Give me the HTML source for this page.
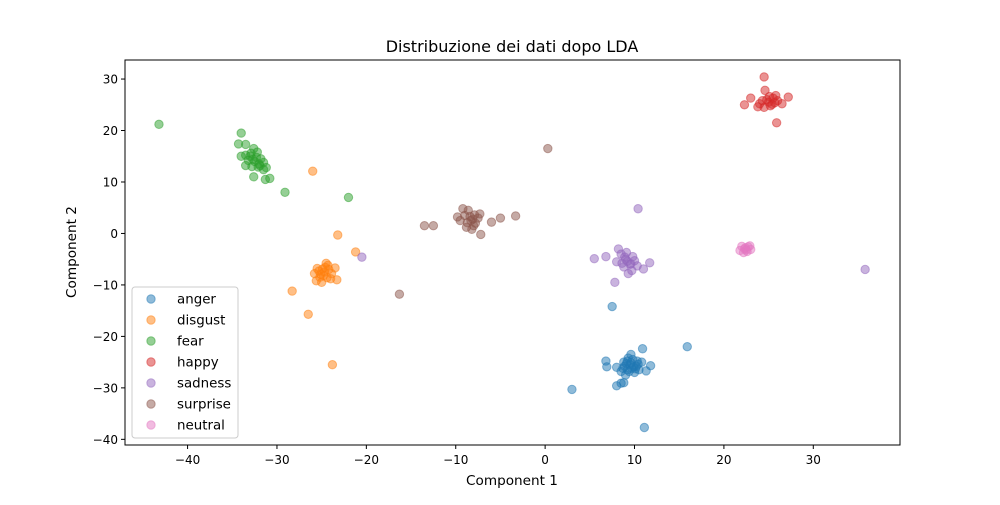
<!DOCTYPE html>
<html><head><meta charset="utf-8"><style>
body{margin:0;background:#fff;font-family:"Liberation Sans",sans-serif}
svg text{font-family:"DejaVu Sans","Liberation Sans",sans-serif;fill:#000}
</style></head><body>
<svg id="chart" width="1000" height="500">
<rect width="1000" height="500" fill="#fff"/>
<text x="512" y="52" font-size="16" text-anchor="middle">Distribuzione dei dati dopo LDA</text>
<g id="marks"></g>
<rect x="125" y="60" width="775" height="385" fill="none" stroke="#000" stroke-width="1"/>
<g id="axes"></g>
<text x="512" y="485" font-size="13.6" text-anchor="middle">Component 1</text>
<text transform="translate(76,252) rotate(-90)" font-size="13.6" text-anchor="middle">Component 2</text>
<g id="legend"></g>
</svg>
<script>
const classes=["anger","disgust","fear","happy","sadness","surprise","neutral"];
const colors=["#1f77b4","#ff7f0e","#2ca02c","#d62728","#9467bd","#8c564b","#e377c2"];
const xTicks=[-40,-30,-20,-10,0,10,20,30];
const yTicks=[30,20,10,0,-10,-20,-30,-40];
const anger=[[3,-30.3],[6.8,-24.8],[6.9,-25.9],[7.5,-14.2],[8,-29.6],[8.5,-29.1],[8.8,-29],[10.9,-22.4],[11.1,-37.7],[15.9,-22],[11.8,-25.7],[11.3,-26.7],[8,-26],[9.5,-25.5],[9.8,-24.5],[9.2,-26.5],[10.2,-25.8],[8.8,-25],[9.6,-23.5],[10.5,-26.5],[9,-27.5],[8.5,-26.8],[10,-27],[9.3,-24.2],[10.8,-25],[9.7,-26.2],[8.9,-25.8],[10.3,-24.8],[9.1,-25.3],[9.9,-25.9],[9.4,-26.8],[10.1,-26.3],[9.6,-25.1],[8.7,-26.2],[10.4,-25.4],[9.2,-24.8]];
const disgust=[[-26,12.1],[-28.3,-11.2],[-26.5,-15.7],[-23.8,-25.5],[-23.2,-0.3],[-21.2,-3.6],[-23.3,-9],[-23.5,-6.7],[-24.7,-7.5],[-25.2,-8.5],[-24.3,-6.2],[-25.5,-6.8],[-24,-8.8],[-25,-9.5],[-24.5,-5.8],[-25.8,-7.8],[-24.2,-7],[-25.3,-7.3],[-24.8,-8.2],[-23.9,-7.8],[-25.6,-9.2],[-24.6,-6.6],[-25.1,-7.9],[-24.4,-8.6],[-24.9,-6.9]];
const fear=[[-43.2,21.2],[-34,19.5],[-34.3,17.4],[-33.5,17.3],[-29.1,8],[-22,7],[-31.3,10.5],[-30.8,10.7],[-32.6,11],[-31.5,12.4],[-32.5,14],[-33,15],[-32,13.5],[-33.5,15.2],[-31.8,14.5],[-32.8,13],[-32.2,15.8],[-33.2,14.2],[-31.5,13.8],[-32.6,16.5],[-34,15],[-31.2,12.8],[-33.5,13.2],[-32.3,14.8],[-32.7,14.4],[-32.1,12.9],[-32.9,15.6],[-31.9,13.2]];
const happy=[[24.5,30.4],[25.9,21.5],[22.3,25],[27.2,26.5],[23,26.3],[25,25.5],[24.5,24.5],[25.5,26.3],[24,25.2],[26,25.8],[25.2,24.8],[24.6,27.8],[26.5,25.2],[25.8,26.8],[23.8,24.6],[25.4,25.1],[24.8,26],[25.1,26.6],[25.7,25.4],[24.3,25.8]];
const sadness=[[10.4,4.8],[35.8,-7],[-20.5,-4.6],[5.5,-4.9],[7.8,-9.5],[11.7,-5.7],[11,-6.9],[6.8,-4.5],[9,-5],[8.5,-4],[9.5,-6],[8.2,-3],[9.8,-4.5],[8.8,-6.5],[9.3,-7.8],[8,-5.5],[10,-5.3],[9.1,-3.7],[8.6,-5.8],[9.7,-7.2],[10.3,-6.3],[9.2,-5.4],[8.9,-4.6],[9.6,-5.9]];
const surprise=[[0.3,16.5],[-16.3,-11.8],[-13.5,1.5],[-12.5,1.5],[-3.3,3.4],[-5,3],[-6,2.2],[-7.2,-0.2],[-8.3,2.5],[-9,3.5],[-8,1.5],[-9.5,2.5],[-7.5,3],[-8.6,4.5],[-8.2,0.8],[-9.8,3.2],[-7.8,2],[-8.8,1.2],[-7.3,3.8],[-9.2,4.8],[-8.4,3.3],[-8.1,2.8],[-8.7,2.1],[-7.9,3.6]];
const neutral=[[22.3,-3],[22,-2.5],[22.6,-3.5],[22.9,-2.4],[21.8,-3.3],[22.4,-2.8],[23,-3.1],[22.2,-3.7],[22.7,-2.6],[22.5,-3.2]];
const series=[anger,disgust,fear,happy,sadness,surprise,neutral];
const NS="http://www.w3.org/2000/svg";
const X0=125,X1=900,Y0=60,Y1=445,xmin=-47.0,xmax=39.7,ymin=-41.1,ymax=33.7;
const sx=v=>X0+(v-xmin)/(xmax-xmin)*(X1-X0);
const sy=v=>Y1-(v-ymin)/(ymax-ymin)*(Y1-Y0);
function mk(t,a,p){const e=document.createElementNS(NS,t);for(const k in a)e.setAttribute(k,a[k]);p.appendChild(e);return e;}
const marks=document.getElementById("marks");
series.forEach((pts,i)=>{const g=mk("g",{},marks);


pts.forEach(p=>{const c=mk("circle",{cx:sx(p[0]),cy:sy(p[1]),r:4.2,fill:colors[i],"fill-opacity":0.5,stroke:colors[i],"stroke-opacity":0.5},g);

});});
const axes=document.getElementById("axes");
xTicks.forEach(t=>{const x=sx(t);mk("line",{x1:x,x2:x,y1:Y1,y2:Y1+4,stroke:"#000"},axes);
const tx=mk("text",{x:x,y:Y1+19,"font-size":12,"text-anchor":"middle"},axes);tx.textContent=t<0?"\u2212"+(-t):t;

});
yTicks.forEach(t=>{const y=sy(t);mk("line",{x1:X0-4,x2:X0,y1:y,y2:y,stroke:"#000"},axes);
const tx=mk("text",{x:X0-7,y:y+4.5,"font-size":12,"text-anchor":"end"},axes);tx.textContent=t<0?"\u2212"+(-t):t;

});
const lg=document.getElementById("legend");


mk("rect",{x:132,y:287,width:106,height:151,rx:3,fill:"#fff","fill-opacity":0.8,stroke:"#ccc"},lg);
classes.forEach((c,i)=>{const y=299+i*21;
const g=mk("g",{},lg);


mk("circle",{cx:151,cy:y,r:4.2,fill:colors[i],"fill-opacity":0.5,stroke:colors[i],"stroke-opacity":0.5},g);
const t=mk("text",{x:177,y:y+4.5,"font-size":13.4},g);t.textContent=c;});
</script>
</body></html>
